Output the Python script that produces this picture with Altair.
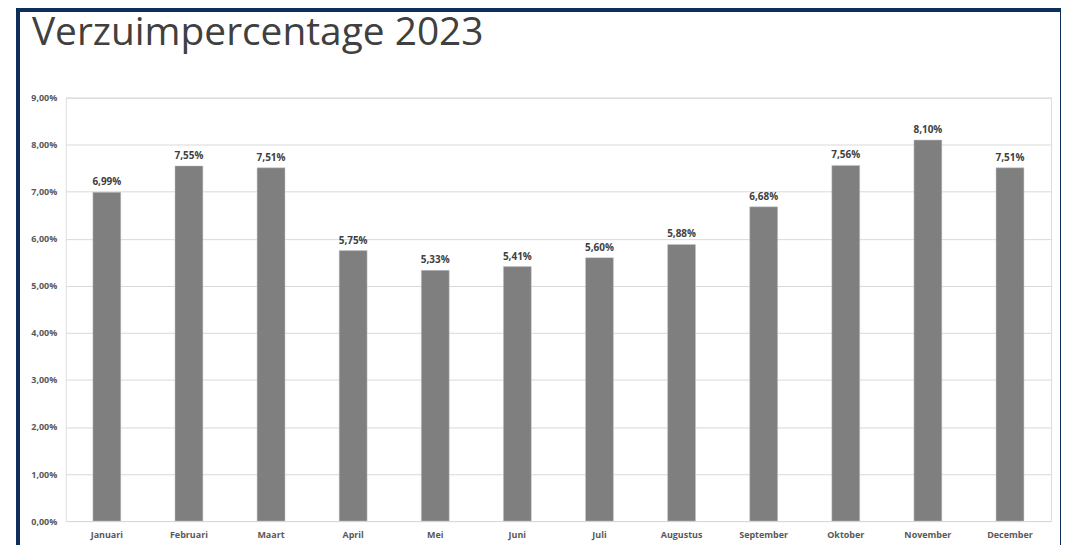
import altair as alt
import pandas as pd

months = ["Januari", "Februari", "Maart", "April", "Mei", "Juni", "Juli",
          "Augustus", "September", "Oktober", "November", "December"]
values = [6.99, 7.55, 7.51, 5.75, 5.33, 5.41, 5.60, 5.88, 6.68, 7.56, 8.10, 7.51]
y_ticks = [0, 1, 2, 3, 4, 5, 6, 7, 8, 9]

df = pd.DataFrame({"maand": months, "pct": values})

FONT = "Open Sans"
W, H = 989, 425

base = alt.Chart(df).transform_calculate(
    label="replace(format(datum.pct, '.2f'), '.', ',') + '%'"
)

x = alt.X("maand:N", sort=months, title=None,
          scale=alt.Scale(paddingInner=0.66, paddingOuter=0.33),
          axis=alt.Axis(labelAngle=0, ticks=False, domainColor="#d9d9d9",
                        labelColor="#595959", labelFont=FONT, labelFontSize=9,
                        labelFontWeight="bold", labelPadding=9))
y = alt.Y("pct:Q", title=None,
          scale=alt.Scale(domain=[0, 9], nice=False),
          axis=alt.Axis(values=y_ticks, ticks=False, domain=False,
                        gridColor="#d9d9d9", labelColor="#595959",
                        labelFont=FONT, labelFontSize=9, labelFontWeight="bold",
                        labelPadding=9,
                        labelExpr="replace(format(datum.value, '.2f'), '.', ',') + '%'"))

bars = base.mark_bar(color="#7f7f7f", stroke="#c8c8c8", strokeWidth=0.5).encode(x=x, y=y)
labels = base.mark_text(baseline="bottom", dy=-5, font=FONT, fontSize=10,
                        fontWeight="bold", color="#404040").encode(
    x=alt.X("maand:N", sort=months), y="pct:Q", text="label:N")

border_color = "#0e2f5a"
left_border = base.mark_rule(color=border_color, strokeWidth=3).encode(
    x=alt.value(-48), y=alt.value(-90), y2=alt.value(H + 40))
right_border = base.mark_rule(color=border_color, strokeWidth=3).encode(
    x=alt.value(1000), y=alt.value(-90), y2=alt.value(H + 40))
top_border = base.mark_rule(color=border_color, strokeWidth=3).encode(
    x=alt.value(-49), x2=alt.value(1001), y=alt.value(-88))

chart = alt.layer(bars, labels, left_border, right_border, top_border).properties(
    width=W, height=H,
    title=alt.Title("Verzuimpercentage 2023", anchor="start", frame="group",
                    font=FONT, fontSize=39, fontWeight="normal", color="#404040",
                    baseline="alphabetic", dx=-34, dy=78, offset=0),
    padding={"left": 58, "top": 89, "right": 10, "bottom": 23},
    autosize=alt.AutoSizeParams(type="none"),
).configure_view(stroke=None).configure(background="white")

chart.save("out.html", embed_options={"renderer": "svg", "actions": False})
